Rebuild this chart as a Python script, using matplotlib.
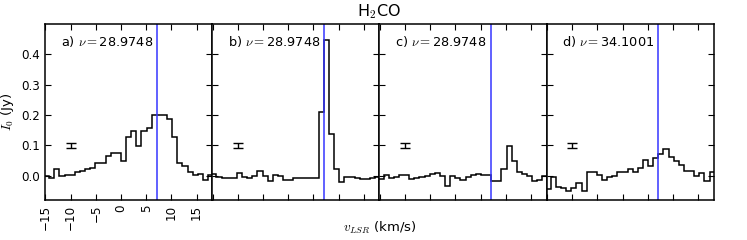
import matplotlib
matplotlib.use('Agg')
import matplotlib.pyplot as plt
import numpy as np

# velocity channels (km/s), ~1.02 km/s wide
vel = [-14.76, -13.74, -12.73, -11.71, -10.69, -9.68, -8.66, -7.64, -6.62, -5.61,
       -4.59, -3.57, -2.56, -1.54, -0.52, 0.50, 1.51, 2.53, 3.55, 4.56,
       5.58, 6.60, 7.61, 8.63, 9.65, 10.67, 11.68, 12.70, 13.72, 14.73,
       15.75, 16.77, 17.78]

flux_a = [-0.002, -0.008, 0.023, 0.000, 0.002, 0.003, 0.012, 0.016, 0.021, 0.025,
          0.042, 0.041, 0.066, 0.074, 0.075, 0.049, 0.128, 0.148, 0.098, 0.148,
          0.158, 0.199, 0.199, 0.199, 0.188, 0.128, 0.042, 0.031, 0.012, 0.004,
          0.006, -0.014, 0.002]
flux_b = [0.005, -0.003, -0.007, -0.007, -0.008, 0.009, -0.004, -0.008, -0.001, 0.015,
          -0.002, -0.016, 0.002, -0.002, -0.014, -0.014, -0.006, -0.007, -0.006, -0.007,
          -0.006, 0.209, 0.448, 0.139, 0.022, -0.020, -0.004, -0.005, -0.007, -0.010,
          -0.012, -0.006, -0.003]
flux_c = [-0.012, 0.001, -0.006, -0.004, 0.003, 0.004, -0.012, -0.007, -0.004, -0.002,
          0.005, 0.010, -0.002, -0.033, -0.002, -0.008, -0.015, -0.004, 0.003, 0.007,
          0.003, 0.002, -0.019, -0.019, 0.023, 0.099, 0.050, 0.012, 0.007, -0.001,
          -0.017, -0.013, -0.002]
flux_d = [-0.045, -0.005, -0.038, -0.042, -0.050, -0.042, -0.024, -0.052, 0.011, 0.011,
          0.003, -0.015, -0.004, -0.002, 0.011, 0.012, 0.022, 0.012, 0.024, 0.053,
          0.033, 0.060, 0.070, 0.088, 0.061, 0.050, 0.034, 0.017, 0.015, -0.001,
          0.008, -0.018, 0.013]

labels = ['a)', 'b)', 'c)', 'd)']
freqs = ['28.9748', '28.9748', '28.9748', '34.1001']
v_sys = 7.1
err_x, err_y, err_size = -10, 0.1, 0.008

plt.rcParams['mathtext.fontset'] = 'cm'
plt.rcParams['font.family'] = 'DejaVu Sans'

fig, axes = plt.subplots(1, 4, sharey=True, figsize=(7.47, 2.4), dpi=100)
fig.subplots_adjust(left=0.0602, right=0.9554, bottom=0.1667, top=0.9, wspace=0)

v = np.array(vel)
w = np.diff(v).mean()
edges = np.concatenate([[v[0] - w / 2], (v[1:] + v[:-1]) / 2, [v[-1] + w / 2]])

for ax, flux, lab, f in zip(axes, [flux_a, flux_b, flux_c, flux_d], labels, freqs):
    ax.stairs(flux, edges, color='k', lw=1.1, baseline=None)
    ax.axvline(v_sys, color='#3535ff', lw=1.1)
    ax.errorbar(err_x, err_y, yerr=err_size, color='k', capsize=3.5, lw=1, capthick=1)
    ax.text(0.095, 0.945, lab + r' $\nu=$28.9748'.replace('28.9748', f), transform=ax.transAxes,
            ha='left', va='top', fontsize=9.3)
    ax.set_xlim(-15.1, 18.1)
    ax.set_ylim(-0.08, 0.5)
    ax.set_xticks([-15, -10, -5, 0, 5, 10, 15])
    ax.set_yticks([0.0, 0.1, 0.2, 0.3, 0.4])
    ax.tick_params(direction='in', top=True, right=True, length=4, width=0.8, labelsize=8.6)
    for s in ax.spines.values():
        s.set_linewidth(1.1)
    if ax is not axes[0]:
        ax.tick_params(labelbottom=False)

axes[0].set_yticklabels(['0.0', '0.1', '0.2', '0.3', '0.4'])
for t in axes[0].get_xticklabels():
    t.set_rotation(90)
axes[0].set_ylabel(r'$I_0$ (Jy)', fontsize=9.5, labelpad=4)

fig.text(0.508, 0.05, r'$v_{LSR}$ (km/s)', ha='center', va='center', fontsize=9.5)
fig.text(0.508, 0.95, r'H$_2$CO', ha='center', va='center', fontsize=11.5)

fig.savefig('out.png', dpi=100)
